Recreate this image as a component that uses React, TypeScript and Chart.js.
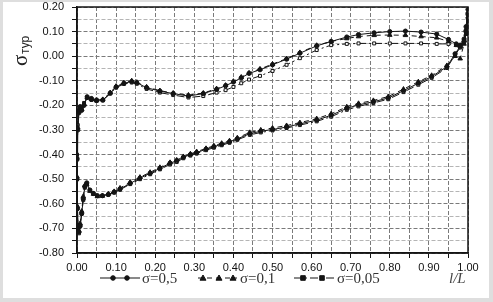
import React, { useEffect, useRef } from "react";
import { Chart, registerables } from "chart.js";
Chart.register(...registerables);

// ---- data ----
const xUpper = [0, 0.002, 0.005, 0.008, 0.012, 0.018, 0.026, 0.037, 0.05, 0.066, 0.085, 0.1, 0.12, 0.14, 0.153, 0.178, 0.212, 0.246, 0.285, 0.323, 0.357, 0.38, 0.4, 0.42, 0.44, 0.468, 0.5, 0.536, 0.57, 0.613, 0.65, 0.69, 0.72, 0.76, 0.8, 0.84, 0.88, 0.92, 0.95, 0.97, 0.98, 0.99, 0.995, 1.0];
const yUpperS05 = [-0.42, -0.30, -0.23, -0.205, -0.22, -0.20, -0.165, -0.172, -0.178, -0.178, -0.15, -0.125, -0.11, -0.103, -0.108, -0.128, -0.142, -0.152, -0.162, -0.152, -0.135, -0.12, -0.105, -0.088, -0.07, -0.055, -0.035, -0.012, 0.012, 0.042, 0.06, 0.078, 0.088, 0.095, 0.1, 0.102, 0.098, 0.09, 0.068, 0.05, 0.045, 0.07, 0.12, 0.19];
const yUpperS01 = [-0.41, -0.29, -0.22, -0.21, -0.215, -0.195, -0.168, -0.175, -0.18, -0.176, -0.148, -0.122, -0.108, -0.1, -0.106, -0.125, -0.14, -0.15, -0.158, -0.15, -0.132, -0.118, -0.102, -0.085, -0.068, -0.052, -0.032, -0.01, 0.015, 0.044, 0.06, 0.072, 0.08, 0.085, 0.086, 0.085, 0.08, 0.075, 0.06, 0.045, 0.04, 0.065, 0.11, 0.18];
const yUpperS005 = [-0.40, -0.28, -0.22, -0.21, -0.21, -0.19, -0.17, -0.178, -0.182, -0.18, -0.152, -0.128, -0.113, -0.107, -0.112, -0.133, -0.148, -0.158, -0.168, -0.162, -0.148, -0.138, -0.125, -0.11, -0.095, -0.08, -0.06, -0.035, -0.008, 0.025, 0.045, 0.05, 0.052, 0.052, 0.052, 0.052, 0.052, 0.05, 0.05, 0.045, 0.04, 0.06, 0.10, 0.17];

const xLower = [0, 0.001, 0.003, 0.005, 0.008, 0.012, 0.016, 0.02, 0.025, 0.033, 0.042, 0.052, 0.065, 0.08, 0.095, 0.11, 0.136, 0.161, 0.187, 0.212, 0.238, 0.255, 0.272, 0.29, 0.306, 0.33, 0.35, 0.37, 0.39, 0.41, 0.442, 0.47, 0.5, 0.536, 0.57, 0.613, 0.65, 0.69, 0.72, 0.758, 0.796, 0.835, 0.873, 0.907, 0.946, 0.967, 0.98, 0.99, 0.995, 1.0];
const yLowerS05 = [-0.50, -0.62, -0.70, -0.715, -0.69, -0.64, -0.58, -0.53, -0.515, -0.544, -0.558, -0.567, -0.567, -0.562, -0.552, -0.54, -0.517, -0.496, -0.476, -0.456, -0.435, -0.425, -0.411, -0.40, -0.392, -0.378, -0.368, -0.358, -0.348, -0.336, -0.315, -0.305, -0.298, -0.288, -0.275, -0.26, -0.24, -0.212, -0.198, -0.185, -0.17, -0.14, -0.11, -0.083, -0.043, 0.01, 0.04, 0.06, 0.10, 0.17];
const yLowerS01 = [-0.49, -0.61, -0.69, -0.71, -0.68, -0.63, -0.57, -0.525, -0.52, -0.548, -0.56, -0.57, -0.568, -0.56, -0.55, -0.536, -0.512, -0.492, -0.472, -0.452, -0.432, -0.422, -0.408, -0.397, -0.388, -0.375, -0.364, -0.354, -0.344, -0.332, -0.31, -0.3, -0.292, -0.282, -0.27, -0.254, -0.234, -0.206, -0.192, -0.18, -0.164, -0.134, -0.104, -0.078, -0.038, 0.0, -0.01, 0.05, 0.09, 0.16];
const yLowerS005 = [-0.50, -0.62, -0.70, -0.72, -0.69, -0.64, -0.585, -0.535, -0.52, -0.546, -0.56, -0.568, -0.568, -0.564, -0.555, -0.543, -0.52, -0.5, -0.48, -0.46, -0.44, -0.43, -0.415, -0.404, -0.396, -0.382, -0.372, -0.362, -0.352, -0.34, -0.32, -0.31, -0.302, -0.292, -0.28, -0.265, -0.246, -0.218, -0.204, -0.19, -0.175, -0.146, -0.116, -0.088, -0.048, 0.005, 0.035, 0.055, 0.09, 0.15];

const seriesLabels = ["σ=0,5", "σ=0,1", "σ=0,05"];
const xTickLabels = ["0.00", "0.10", "0.20", "0.30", "0.40", "0.50", "0.60", "0.70", "0.80", "0.90", "1.00"];
const yTickLabels = ["-0.80", "-0.70", "-0.60", "-0.50", "-0.40", "-0.30", "-0.20", "-0.10", "0.00", "0.10", "0.20"];
const xAxisTitle = "l/L";
const yAxisTitle = "σ";
const yAxisSub = "тур";

function loop(yu: number[], yl: number[]) {
  const pts: { x: number; y: number }[] = [];
  for (let i = xUpper.length - 1; i >= 0; i--) pts.push({ x: xUpper[i], y: yu[i] });
  for (let i = 0; i < xLower.length; i++) pts.push({ x: xLower[i], y: yl[i] });
  return pts;
}

const INK = "#141414";
const dashes = [[], [5, 4], [8, 3, 2, 3]];
const shapes = ["circle", "triangle", "rect"];
const fills = [INK, INK, "#ffffff"];

function drawMarker(ctx: CanvasRenderingContext2D, shape: string, x: number, y: number, fill: string) {
  ctx.save();
  ctx.setLineDash([]);
  ctx.fillStyle = fill;
  ctx.strokeStyle = INK;
  ctx.lineWidth = 1;
  ctx.beginPath();
  if (shape === "circle") ctx.arc(x, y, 2.3, 0, Math.PI * 2);
  else if (shape === "triangle") {
    ctx.moveTo(x, y - 3);
    ctx.lineTo(x + 3, y + 2.2);
    ctx.lineTo(x - 3, y + 2.2);
    ctx.closePath();
  } else ctx.rect(x - 2.3, y - 2.3, 4.6, 4.6);
  ctx.fill();
  ctx.stroke();
  ctx.restore();
}

const bgPlugin = {
  id: "bgFrame",
  beforeDraw(chart: any) {
    const { ctx, width, height } = chart;
    ctx.save();
    ctx.fillStyle = "#dedede";
    ctx.fillRect(0, 0, width, height);
    ctx.fillStyle = "#ffffff";
    ctx.fillRect(3, 2, width - 7, height - 6);
    ctx.restore();
  },
};

const decoPlugin = {
  id: "deco",
  afterDraw(chart: any) {
    const { ctx } = chart;
    const { left, top, right, bottom } = chart.chartArea;
    ctx.save();
    ctx.setLineDash([]);
    ctx.strokeStyle = INK;
    ctx.lineWidth = 1.5;
    ctx.strokeRect(left, top, right - left, bottom - top);

    // legend
    const ly = 278;
    const items = [
      { x0: 100, x1: 140, marks: [113, 127], tx: 142 },
      { x0: 198, x1: 237, marks: [203, 219, 233], tx: 240 },
      { x0: 294, x1: 335, marks: [303, 322], tx: 337 },
    ];
    items.forEach((it, i) => {
      ctx.save();
      ctx.strokeStyle = INK;
      ctx.lineWidth = 1.2;
      ctx.setLineDash(dashes[i]);
      ctx.beginPath();
      ctx.moveTo(it.x0, ly);
      ctx.lineTo(it.x1, ly);
      ctx.stroke();
      ctx.restore();
      it.marks.forEach((mx) => drawMarker(ctx, shapes[i], mx, ly, i === 2 ? INK : fills[i]));
      ctx.fillStyle = "#333";
      ctx.font = '15px "Liberation Serif"';
      ctx.textBaseline = "middle";
      ctx.textAlign = "left";
      ctx.fillText(seriesLabels[i], it.tx, ly + 1);
    });

    // x axis title
    ctx.font = 'italic 15px "Liberation Serif"';
    ctx.fillStyle = "#444";
    ctx.textBaseline = "middle";
    ctx.fillText(xAxisTitle, 449, ly + 1);

    // y axis title (rotated)
    ctx.save();
    ctx.translate(27, 66);
    ctx.rotate(-Math.PI / 2);
    ctx.fillStyle = "#222";
    ctx.textBaseline = "alphabetic";
    ctx.textAlign = "left";
    ctx.font = '21px "Liberation Serif"';
    ctx.fillText(yAxisTitle, 0, 0);
    ctx.font = '12px "Liberation Sans"';
    ctx.fillText(yAxisSub, 12, 2);
    ctx.restore();

    ctx.restore();
  },
};

export default function App() {
  const ref = useRef<HTMLCanvasElement>(null);
  useEffect(() => {
    if (!ref.current) return;
    const ys = [
      [yUpperS05, yLowerS05],
      [yUpperS01, yLowerS01],
      [yUpperS005, yLowerS005],
    ];
    const datasets = ys.map(([yu, yl], i) => ({
      label: seriesLabels[i],
      data: loop(yu, yl),
      showLine: true,
      borderColor: INK,
      borderWidth: 1,
      borderDash: dashes[i],
      pointStyle: shapes[i],
      pointRadius: i === 1 ? 2.6 : 2.1,
      pointBackgroundColor: fills[i],
      pointBorderColor: INK,
      pointBorderWidth: 1,
      tension: 0,
      fill: false,
    }));
    const isMajor = (v: number) => Math.abs(Math.round(v * 100)) % 10 === 0;
    const chart = new Chart(ref.current, {
      type: "scatter",
      data: { datasets } as any,
      plugins: [bgPlugin, decoPlugin],
      options: {
        animation: false,
        responsive: false,
        maintainAspectRatio: false,
        layout: { padding: { left: 0, top: 7, right: 25, bottom: 0 } },
        plugins: { legend: { display: false }, tooltip: { enabled: false } },
        scales: {
          x: {
            type: "linear",
            min: 0,
            max: 1,
            afterFit: (s: any) => {
              s.height = 49;
              s.paddingLeft = 0;
              s.paddingRight = 0;
            },
            ticks: {
              stepSize: 0.05,
              autoSkip: false,
              maxRotation: 0,
              padding: 3,
              color: "#111",
              font: { family: '"Liberation Sans"', size: 11 },
              callback: (v: any) => (isMajor(Number(v)) ? xTickLabels[Math.round(Number(v) * 10)] : ""),
            },
            grid: {
              color: "#7a7a7a",
              lineWidth: 1,
              tickColor: INK,
              tickLength: 5,
            },
            border: { display: true, color: INK, width: 1.5, dash: [4, 2] },
          },
          y: {
            type: "linear",
            min: -0.8,
            max: 0.2,
            afterFit: (s: any) => {
              s.width = 77;
              s.paddingTop = 0;
              s.paddingBottom = 0;
            },
            ticks: {
              stepSize: 0.05,
              autoSkip: false,
              padding: 8,
              color: "#111",
              font: { family: '"Liberation Sans"', size: 11 },
              callback: (v: any) => (isMajor(Number(v)) ? yTickLabels[Math.round((Number(v) + 0.8) * 10)] : ""),
            },
            grid: {
              color: (c: any) => (c.tick && isMajor(c.tick.value) ? "#7a7a7a" : "#b5b5b5"),
              lineWidth: 1,
              tickColor: INK,
              tickLength: 5,
            },
            border: { display: true, color: INK, width: 1.5, dash: [4, 2] },
          },
        },
      } as any,
    });
    return () => chart.destroy();
  }, []);
  return (
    <div style={{ position: "absolute", left: 0, top: 0, width: 493, height: 302 }}>
      <canvas ref={ref} width={493} height={302} style={{ width: 493, height: 302, display: "block" }} />
    </div>
  );
}
